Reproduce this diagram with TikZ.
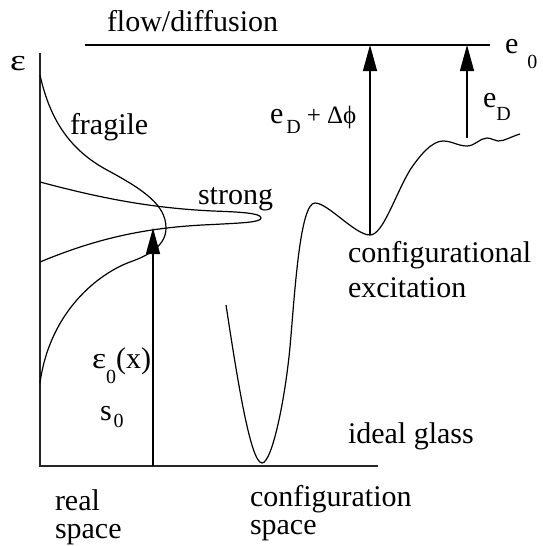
\documentclass[tikz,border=0pt]{standalone}
\usepackage{fontspec}
\setmainfont{Liberation Serif}
\usetikzlibrary{arrows.meta}
\newcommand\bigfnt{\fontsize{30}{36}\selectfont}
\newcommand\subfnt{\fontsize{20}{24}\selectfont}
\newcommand\lsub[2]{\raisebox{-#1pt}{\subfnt #2}}
\newcommand\weps[1]{\scalebox{#1}[1]{ε}}
\begin{document}
\begin{tikzpicture}[x=1pt,y=-1pt,
  curve/.style={line width=1.2pt, line join=round},
  axis/.style={line width=1.6pt, draw=black!85},
  txt/.style={anchor=base west, inner sep=0pt, outer sep=0pt, font=\bigfnt},
  twoline/.style={anchor=base west, inner sep=0pt, outer sep=0pt, align=left, font=\fontsize{30}{28}\selectfont},
  arr/.style={line width=1.2pt, -{Triangle[length=26pt,width=14pt]}}
]
\useasboundingbox (0,0) rectangle (542,546);

% axes and level line
\coordinate (axtop) at (40,53);
\coordinate (origin) at (40,466);
\coordinate (axend) at (378,466);
\draw[axis] (axtop) -- (origin) -- (axend);
\coordinate (topL) at (85,45);
\coordinate (topR) at (490,45);
\draw[curve] (topL) -- (topR);

% labels
\node[txt] (flow) at (107,31) {flow/diffusion};
\node[txt] (eps) at (10,70) {\weps{1.25}};
\node[txt] (frag) at (70,134) {fragile};
\node[txt] (strong) at (198,204) {strong};
\node[txt] (edphi) at (270,123) {e\hspace{3pt}\lsub{10}{D}\hspace{6pt}{\fontsize{25}{30}\selectfont + Δϕ}};
\node[txt] (ed) at (483,107) {e\lsub{13}{D}};
\node[txt] (e0) at (505,53) {e\hspace{9pt}\lsub{15}{0}};
\node[txt] (conf1) at (348,262) {configurational};
\node[txt] (conf2) at (348,297) {excitation};
\node[txt] (ideal) at (348,443) {ideal glass};
\node[twoline] (cs) at (250,534) {configuration\\space};
\node[twoline] (rs) at (55,538) {real\\space};
\node[txt] (eps0) at (92,368) {\weps{1.12}\lsub{15}{0}(x)};
\node[txt] (s0) at (100,420) {s\hspace{2pt}\lsub{7}{0}};

% fragile distribution
\draw[curve] (40,75) .. controls (50,120) and (70,150) .. (107,170)
  .. controls (144,190) and (166,205) .. (166,228)
  .. controls (166,245) and (150,255) .. (130,262)
  .. controls (100,273) and (50,310) .. (40,383);

% strong distribution
\draw[curve] (40,182) .. controls (100,198) and (150,208) .. (213,211)
  .. controls (240,212) and (261,213) .. (261,218)
  .. controls (261,222.5) and (240,223) .. (213,224.5)
  .. controls (150,227) and (100,237) .. (40,262);

% energy landscape
\draw[curve] (226,305) .. controls (236,370) and (250,463) .. (262,463)
  .. controls (272,463) and (285,400) .. (290,347)
  .. controls (295,290) and (300,203) .. (315,203)
  .. controls (328,203) and (355,235) .. (370,235)
  .. controls (383,235) and (395,195) .. (410,170)
  .. controls (420,155) and (432,141) .. (443,141)
  .. controls (452,141) and (458,146) .. (467,146)
  .. controls (475,146) and (480,138) .. (487,138)
  .. controls (492,138) and (494,141) .. (498,141)
  .. controls (505,141) and (510,137) .. (520,134);

% arrows
\coordinate (a1s) at (153,466);
\coordinate (a1e) at (153,228);
\draw[arr] (a1s) -- (a1e);
\coordinate (a2s) at (370,235);
\coordinate (a2e) at (370,45);
\draw[arr] (a2s) -- (a2e);
\coordinate (a3s) at (467,138);
\coordinate (a3e) at (467,45);
\draw[arr] (a3s) -- (a3e);
\end{tikzpicture}
\end{document}
